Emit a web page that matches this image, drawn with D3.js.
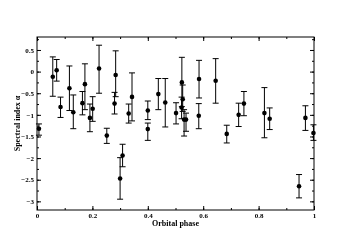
<!DOCTYPE html>
<html>
<head>
<meta charset="utf-8">
<script src="https://d3js.org/d3.v7.min.js"></script>
<style>
  body { margin: 0; background: #fff; }
  svg { will-change: transform; }
  text { font-family: "Liberation Serif", "DejaVu Serif", serif; font-weight: bold; fill: #000; }
</style>
</head>
<body>
<div id="chart"></div>
<script>
// orbital phase, spectral index, upper and lower end of error bar
var phase = [0.007, 0.057, 0.071, 0.085, 0.117, 0.131, 0.164, 0.173, 0.191, 0.201,
             0.224, 0.252, 0.280, 0.284, 0.300, 0.309, 0.331, 0.343, 0.400, 0.400,
             0.438, 0.463, 0.502, 0.523, 0.526, 0.522, 0.531, 0.538, 0.585, 0.584,
             0.645, 0.685, 0.728, 0.747, 0.821, 0.840, 0.946, 0.969, 0.998];
var alpha = [-1.32, -0.12, 0.03, -0.82, -0.385, -0.94, -0.73, -0.29, -1.07, -0.86,
             0.07, -1.48, -0.74, -0.08, -2.47, -1.94, -0.97, -0.585, -0.90, -1.33,
             -0.52, -0.715, -0.96, -0.25, -0.64, -0.83, -1.11, -1.11, -0.17, -1.02,
             -0.21, -1.44, -1.00, -0.74, -0.96, -1.09, -2.65, -1.07, -1.42];
var upper = [-1.21, 0.34, 0.28, -0.59, 0.13, -0.54, -0.46, 0.18, -0.75, -0.58,
             0.61, -1.31, -0.48, 0.48, -1.99, -1.68, -0.75, -0.03, -0.68, -1.19,
             -0.16, -0.16, -0.72, 0.33, -0.31, -0.59, -0.88, -0.96, 0.26, -0.74,
             0.30, -1.24, -0.73, -0.46, -0.37, -0.84, -2.38, -0.79, -1.23];
var lower = [-1.47, -0.57, -0.22, -1.06, -0.90, -1.32, -1.00, -0.88, -1.39, -1.15,
             -0.50, -1.66, -0.98, -0.58, -2.95, -2.20, -1.19, -1.14, -1.11, -1.59,
             -0.88, -1.28, -1.21, -0.81, -0.92, -1.09, -1.49, -1.38, -0.61, -1.32,
             -0.73, -1.65, -1.27, -1.02, -1.53, -1.34, -2.92, -1.36, -1.59];
var xTicks = [0, 0.2, 0.4, 0.6, 0.8, 1];
var yTicks = [0.5, 0, -0.5, -1, -1.5, -2, -2.5, -3];

var width = 351, height = 248;
var margin = {left: 37, right: 37, top: 37, bottom: 38};
var w = width - margin.left - margin.right;
var h = height - margin.top - margin.bottom;

var svg = d3.select("#chart").append("svg")
  .attr("width", width)
  .attr("height", height);
var g = svg.append("g")
  .attr("transform", "translate(" + margin.left + "," + margin.top + ")");

var xs = d3.scaleLinear().domain([0, 1]).range([0, w]);
var ys = d3.scaleLinear().domain([-3.2, 0.8]).range([h, 0]);

var data = phase.map(function(p, i) {
  return {x: p, y: alpha[i], hi: upper[i], lo: lower[i]};
});

// minor ticks (inside, all four sides)
var xMinor = d3.range(0, 1.0001, 0.1);
var yMinor = d3.range(-3.0, 0.8, 0.25);
g.append("g").call(d3.axisBottom(xs).tickValues(xMinor).tickSize(-2).tickFormat(""))
  .attr("transform", "translate(0," + h + ")");
g.append("g").call(d3.axisTop(xs).tickValues(xMinor).tickSize(-2).tickFormat(""));
g.append("g").call(d3.axisLeft(ys).tickValues(yMinor).tickSize(-2).tickFormat(""));
g.append("g").call(d3.axisRight(ys).tickValues(yMinor).tickSize(-2).tickFormat(""))
  .attr("transform", "translate(" + w + ",0)");

// major ticks
g.append("g").attr("transform", "translate(0," + h + ")")
  .call(d3.axisBottom(xs).tickValues(xTicks).tickSize(-4).tickPadding(3)
    .tickFormat(d3.format("~g")));
g.append("g").call(d3.axisTop(xs).tickValues(xTicks).tickSize(-4).tickFormat(""));
g.append("g")
  .call(d3.axisLeft(ys).tickValues(yTicks).tickSize(-4).tickPadding(3)
    .tickFormat(d3.format("~g")));
g.append("g").attr("transform", "translate(" + w + ",0)")
  .call(d3.axisRight(ys).tickValues(yTicks).tickSize(-4).tickFormat(""));

g.selectAll(".domain").remove();
g.selectAll(".tick line").attr("stroke", "#000").attr("stroke-width", 1);
g.selectAll(".tick text").style("font-size", "7px").attr("fill", "#000")
  .style("font-family", "'Liberation Serif', serif").style("font-weight", "bold");

// frame
g.append("rect")
  .attr("x", 0).attr("y", 0).attr("width", w).attr("height", h)
  .attr("fill", "none").attr("stroke", "#000").attr("stroke-width", 1);

// error bars
var eb = g.append("g").attr("stroke", "#000").attr("stroke-width", 1);
eb.selectAll(".bar").data(data).enter().append("line")
  .attr("x1", function(d) { return xs(d.x); })
  .attr("x2", function(d) { return xs(d.x); })
  .attr("y1", function(d) { return ys(d.hi); })
  .attr("y2", function(d) { return ys(d.lo); });
eb.selectAll(".capHi").data(data).enter().append("line")
  .attr("x1", function(d) { return xs(d.x) - 3; })
  .attr("x2", function(d) { return xs(d.x) + 3; })
  .attr("y1", function(d) { return ys(d.hi); })
  .attr("y2", function(d) { return ys(d.hi); });
eb.selectAll(".capLo").data(data).enter().append("line")
  .attr("x1", function(d) { return xs(d.x) - 3; })
  .attr("x2", function(d) { return xs(d.x) + 3; })
  .attr("y1", function(d) { return ys(d.lo); })
  .attr("y2", function(d) { return ys(d.lo); });

// points
g.selectAll(".pt").data(data).enter().append("circle")
  .attr("cx", function(d) { return xs(d.x); })
  .attr("cy", function(d) { return ys(d.y); })
  .attr("r", 2.3)
  .attr("fill", "#000");

// axis titles
svg.append("text")
  .attr("x", margin.left + w / 2)
  .attr("y", 226)
  .attr("text-anchor", "middle")
  .style("font-size", "8px")
  .text("Orbital phase");

svg.append("text")
  .attr("transform", "translate(20," + (margin.top + h / 2) + ") rotate(-90)")
  .attr("text-anchor", "middle")
  .style("font-size", "8px")
  .text("Spectral index \u03b1");
</script>
</body>
</html>
